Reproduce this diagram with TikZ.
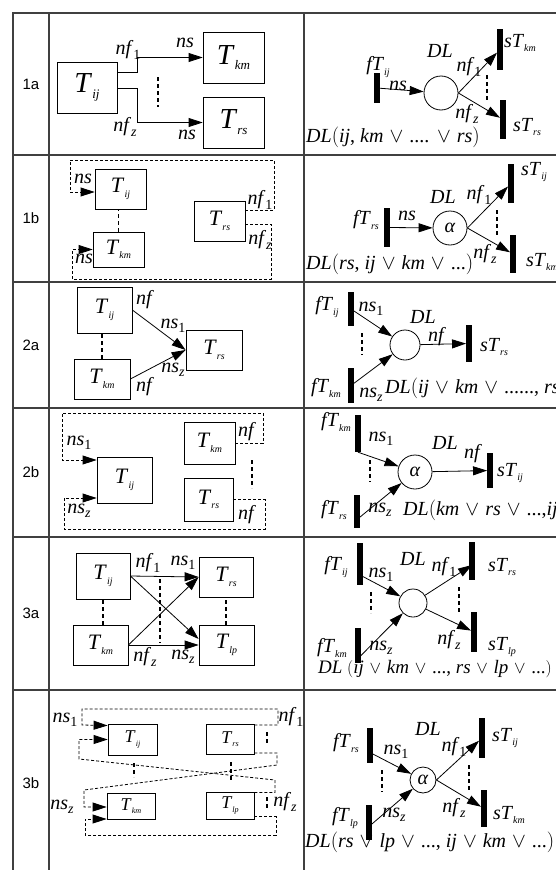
\documentclass[tikz,border=0pt]{standalone}
\usepackage{fontspec}
\setmainfont{Liberation Serif}
\newfontfamily\rowfont{Liberation Sans}
\usepackage{graphicx}
\usetikzlibrary{arrows.meta}

% italic symbol with a lowered, scaled index
\newcommand\sub[3][0.7]{\textit{#2}\raisebox{-0.45ex}{\scalebox{#1}{\textit{#3}}}}
\newcommand\orr{ \hspace{1pt}$\vee$\hspace{1pt} }

\begin{document}
\begin{tikzpicture}[x=1pt,y=-1pt,
  tbl/.style={black!75,line width=1.1pt},
  tbox/.style={draw,line width=0.8pt,inner sep=0pt},
  bar/.style={fill=black,inner sep=0pt,minimum width=5.5pt},
  dl/.style={draw,circle,line width=0.8pt,inner sep=0pt},
  arr/.style={line width=0.8pt,-{Triangle[length=14pt,width=9pt]}},
  darr/.style={line width=0.8pt,dash pattern=on 3pt off 2pt,-{Triangle[length=14pt,width=9pt]}},
  dsh/.style={line width=1.5pt,dash pattern=on 4pt off 3pt},
  tbig/.style={font=\fontsize{29}{32}\selectfont},
  tmed/.style={font=\fontsize{22}{24}\selectfont},
  tsml/.style={font=\fontsize{18}{20}\selectfont},
  lbl/.style={font=\fontsize{20}{22}\selectfont,inner sep=0pt},
  expr/.style={font=\fontsize{20}{22}\selectfont,inner sep=0pt,anchor=west},
  rowlbl/.style={font=\rowfont\fontsize{15}{18}\selectfont}]
\useasboundingbox (0,0) rectangle (556,870);

% table grid
\draw[tbl] (13,870) -- (13,13) -- (556,13);
\foreach \y in {155,282,408,537,690} \draw[tbl] (13,\y) -- (556,\y);
\draw[tbl] (49,13) -- (49,870);
\draw[tbl] (304,13) -- (304,870);
\foreach \n/\y in {1a/84,1b/218,2a/345,2b/472,3a/613,3b/783}
  \node[rowlbl] (r\n) at (31,\y) {\n};

% ---- 1a
\node[tbox,tbig,minimum width=60pt,minimum height=51pt] (Tij1a) at (87,87.5) {\sub[0.45]{T}{ij}};
\node[tbox,tbig,minimum width=61pt,minimum height=51pt] (Tkm1a) at (233.5,57.5) {\sub[0.45]{T}{km}};
\node[tbox,tbig,minimum width=61pt,minimum height=51pt] (Trs1a) at (233.5,122.5) {\sub[0.45]{T}{rs}};
\draw[arr] ([yshift=15pt]Tij1a.east) -- ++(20,0) |- (Tkm1a.west);
\draw[arr] ([yshift=-0.5pt]Tij1a.east) -- ++(20,0) |- (Trs1a.west);
\draw[dsh] (158,77) -- (158,107);
\node[lbl] (nfa1a) at (128,50) {\sub{nf}{\upshape 1}};
\node[lbl] (nsa1a) at (185,43) {\textit{ns}};
\node[lbl] (nfb1a) at (125,127) {\sub{nf}{z}};
\node[lbl] (nsb1a) at (187,135) {\textit{ns}};

\node[bar,minimum height=30pt] (fT1a) at (377,88) {};
\node[dl,minimum size=34pt] (c1a) at (441,93) {};
\node[bar,minimum height=41pt] (sTa1a) at (500,49.5) {};
\node[bar,minimum height=39pt] (sTb1a) at (503,119.5) {};
\draw[arr] (fT1a) -- (c1a);
\draw[arr] (c1a.east) -- (sTa1a);
\draw[arr] (c1a.east) -- (sTb1a);
\draw[dsh] (487,75) -- (487,100);
\node[lbl] (fTl1a) at (378,67) {\sub[0.5]{fT}{ij}};
\node[lbl] (ns1a) at (398,86) {\textit{ns}};
\node[lbl] (DL1a) at (440,51) {\textit{DL}};
\node[lbl] (nfc1a) at (469,67) {\sub{nf}{\upshape 1}};
\node[lbl] (nfd1a) at (467,114) {\sub{nf}{z}};
\node[lbl] (sTal1a) at (520,43) {\sub[0.5]{sT}{km}};
\node[lbl] (sTbl1a) at (527,127) {\sub[0.5]{sT}{rs}};
\node[expr] (ex1a) at (306,137) {\textit{DL}$\bigl($\textit{ij}, \textit{km}\orr....\orr\textit{rs}$\bigr)$};

% ---- 1b
\node[tbox,tmed,minimum width=51pt,minimum height=40pt] (Tij1b) at (120.5,189) {\sub[0.45]{T}{ij}};
\node[tbox,tmed,minimum width=51pt,minimum height=35pt] (Tkm1b) at (118.5,249.5) {\sub[0.45]{T}{km}};
\node[tbox,tmed,minimum width=51pt,minimum height=40pt] (Trs1b) at (219.5,221) {\sub[0.45]{T}{rs}};
\draw[dsh] (Tkm1b.north) -- (Tkm1b.north |- Tij1b.south);
\draw[darr] ([yshift=11pt]Trs1b.east) -- (274,210) -- (274,160) -- (70,160) -- (70,192) -- ([yshift=-3pt]Tij1b.west);
\draw[darr] ([yshift=-3pt]Trs1b.east) -- (271,224) -- (271,279) -- (72,279) -- (72,249.5) -- (Tkm1b.west);
\node[lbl] (nfa1b) at (260,200) {\sub{nf}{\upshape 1}};
\node[lbl] (nsa1b) at (83,179) {\textit{ns}};
\node[lbl] (nfb1b) at (260,240) {\sub{nf}{z}};
\node[lbl] (nsb1b) at (84,259) {\textit{ns}};

\node[bar,minimum height=39pt] (fT1b) at (387,227.5) {};
\node[dl,minimum size=34pt,font=\fontsize{20}{20}\selectfont] (c1b) at (450,228) {\textit{α}};
\node[bar,minimum height=39pt] (sTa1b) at (511,183.5) {};
\node[bar,minimum height=38pt] (sTb1b) at (513,254) {};
\draw[arr] (fT1b) -- (c1b);
\draw[arr] (c1b.east) -- (sTa1b);
\draw[arr] (c1b.east) -- (sTb1b);
\draw[dsh] (497,210) -- (497,235);
\node[lbl] (fTl1b) at (366,220) {\sub[0.5]{fT}{rs}};
\node[lbl] (ns1b) at (407,216) {\textit{ns}};
\node[lbl] (DL1b) at (443,197) {\textit{DL}};
\node[lbl] (nfc1b) at (479,195) {\sub{nf}{\upshape 1}};
\node[lbl] (nfd1b) at (485,254) {\sub{nf}{z}};
\node[lbl] (sTal1b) at (534,172) {\sub[0.5]{sT}{ij}};
\node[lbl] (sTbl1b) at (542,262) {\sub[0.5]{sT}{km}};
\node[expr] (ex1b) at (306,264) {\textit{DL}$\bigl($\textit{rs}, \textit{ij}\orr\textit{km}\orr...$\bigr)$};

% ---- 2a
\node[tbox,tmed,minimum width=55pt,minimum height=46pt] (Tij2a) at (104.5,310) {\sub[0.45]{T}{ij}};
\node[tbox,tmed,minimum width=56pt,minimum height=40pt] (Tkm2a) at (102,379) {\sub[0.45]{T}{km}};
\node[tbox,tmed,minimum width=56pt,minimum height=40pt] (Trs2a) at (214,350) {\sub[0.45]{T}{rs}};
\draw[dsh] (Tkm2a.north) -- (Tkm2a.north |- Tij2a.south);
\draw[arr] (Tij2a.east) -- (Trs2a.west);
\draw[arr] (Tkm2a.east) -- (Trs2a.west);
\node[lbl] (nfa2a) at (145,300) {\textit{nf}};
\node[lbl] (nsa2a) at (173,326) {\sub{ns}{\upshape 1}};
\node[lbl] (nsb2a) at (173,370) {\sub{ns}{z}};
\node[lbl] (nfb2a) at (145,387) {\textit{nf}};

\node[bar,minimum height=34pt] (fTa2a) at (351,309) {};
\node[bar,minimum height=35pt] (fTb2a) at (351,385.5) {};
\node[dl,minimum size=30pt] (c2a) at (405,345) {};
\node[bar,minimum height=37pt] (sT2a) at (469,343.5) {};
\draw[arr] (fTa2a) -- (c2a);
\draw[arr] (fTb2a) -- (c2a);
\draw[arr] (c2a) -- (sT2a);
\draw[dsh] (362,333) -- (362,355);
\node[lbl] (fTal2a) at (327,307) {\sub[0.5]{fT}{ij}};
\node[lbl] (fTbl2a) at (326,388) {\sub[0.5]{fT}{km}};
\node[lbl] (nsa2aR) at (371,309) {\sub{ns}{\upshape 1}};
\node[lbl] (nsb2aR) at (371,395) {\sub{ns}{z}};
\node[lbl] (DL2a) at (423,317) {\textit{DL}};
\node[lbl] (nf2a) at (437,337) {\textit{nf}};
\node[lbl] (sTl2a) at (494,347) {\sub[0.5]{sT}{rs}};
\node[expr] (ex2a) at (385,388) {\textit{DL}$\bigl($\textit{ij}\orr\textit{km}\orr......, \textit{rs}$\bigr)$};

% ---- 2b
\node[tbox,tmed,minimum width=55pt,minimum height=46pt] (Tij2b) at (124.5,480) {\sub[0.45]{T}{ij}};
\node[tbox,tmed,minimum width=51pt,minimum height=42pt] (Tkm2b) at (209.5,443) {\sub[0.45]{T}{km}};
\node[tbox,tmed,minimum width=49pt,minimum height=43pt] (Trs2b) at (208.5,499.5) {\sub[0.45]{T}{rs}};
\draw[dsh] (252,460) -- (252,488);
\draw[darr] (Tkm2b.east) -- (263,443) -- (263,413) -- (62,413) -- (62,460) -- ([yshift=20pt]Tij2b.west);
\draw[darr] (Trs2b.east) -- (265,499.5) -- (265,529) -- (64,529) -- (64,498) -- ([yshift=-18pt]Tij2b.west);
\node[lbl] (nfa2b) at (247,432) {\textit{nf}};
\node[lbl] (nsa2b) at (79,443) {\sub{ns}{\upshape 1}};
\node[lbl] (nfb2b) at (247,515) {\textit{nf}};
\node[lbl] (nsb2b) at (79,511) {\sub{ns}{z}};

\node[bar,minimum height=37pt] (fTa2b) at (358,433.5) {};
\node[bar,minimum height=33pt] (fTb2b) at (357,511.5) {};
\node[dl,minimum size=34pt,font=\fontsize{20}{20}\selectfont] (c2b) at (415,472) {\textit{α}};
\node[bar,minimum height=35pt] (sT2b) at (490,470.5) {};
\draw[arr] (fTa2b.south) -- (c2b);
\draw[arr] ([yshift=-8pt]fTb2b.center) -- (c2b);
\draw[arr] (c2b) -- (sT2b);
\draw[dsh] (370,460) -- (370,482);
\node[lbl] (fTal2b) at (336,422) {\sub[0.5]{fT}{km}};
\node[lbl] (fTbl2b) at (334,510) {\sub[0.5]{fT}{rs}};
\node[lbl] (nsa2bR) at (381,439) {\sub{ns}{\upshape 1}};
\node[lbl] (nsb2bR) at (380,510) {\sub{ns}{z}};
\node[lbl] (DL2b) at (445,443) {\textit{DL}};
\node[lbl] (nf2b) at (473,454) {\textit{nf}};
\node[lbl] (sTl2b) at (510,473) {\sub[0.5]{sT}{ij}};
\node[expr] (ex2b) at (403,510) {\textit{DL}$\bigl($\textit{km}\orr\textit{rs}\orr...,\textit{ij}$\bigr)$};

% ---- 3a
\node[tbox,tmed,minimum width=54pt,minimum height=46pt] (Tij3a) at (103,576) {\sub[0.45]{T}{ij}};
\node[tbox,tmed,minimum width=54pt,minimum height=40pt] (Trs3a) at (226,577) {\sub[0.45]{T}{rs}};
\node[tbox,tmed,minimum width=55pt,minimum height=40pt] (Tkm3a) at (100.5,645) {\sub[0.45]{T}{km}};
\node[tbox,tmed,minimum width=55pt,minimum height=40pt] (Tlp3a) at (226.5,645) {\sub[0.45]{T}{lp}};
\draw[arr] (Tij3a.east) -- (Trs3a.west);
\draw[arr] (Tkm3a.east) -- (Tlp3a.west);
\draw[arr] (Tij3a.east) -- ([yshift=6pt]Tlp3a.west);
\draw[arr] (Tkm3a.east) -- (Trs3a.west);
\draw[dsh] (Tkm3a.north -| 103,0) -- (Tij3a.south);
\draw[dsh] (Tlp3a.north -| Trs3a.south) -- (Trs3a.south);
\draw[dsh] (160,579) -- (160,643);
\node[lbl] (nfa3a) at (148,563) {\sub{nf}{\upshape 1}};
\node[lbl] (nsa3a) at (183,563) {\sub{ns}{\upshape 1}};
\node[lbl] (nfb3a) at (145,657) {\sub{nf}{z}};
\node[lbl] (nsb3a) at (183,657) {\sub{ns}{z}};

\node[bar,minimum height=42pt] (fTa3a) at (360,564) {};
\node[bar,minimum height=35pt] (fTb3a) at (358,645.5) {};
\node[dl,minimum size=28pt] (c3a) at (413,603) {};
\node[bar,minimum height=38pt] (sTa3a) at (472,561) {};
\node[bar,minimum height=40pt] (sTb3a) at (474,632) {};
\draw[arr] ([yshift=-11pt]fTa3a.center) -- (c3a);
\draw[arr] ([yshift=-13pt]fTb3a.center) -- (c3a);
\draw[arr] (c3a) -- ([yshift=-4pt]sTa3a.center);
\draw[arr] (c3a) -- (sTb3a);
\draw[dsh] (371,592) -- (371,613);
\draw[dsh] (459,587) -- (459,613);
\node[lbl] (fTal3a) at (336,567) {\sub[0.5]{fT}{ij}};
\node[lbl] (fTbl3a) at (332,648) {\sub[0.5]{fT}{km}};
\node[lbl] (nsa3aR) at (381,575) {\sub{ns}{\upshape 1}};
\node[lbl] (nsb3aR) at (381,648) {\sub{ns}{z}};
\node[lbl] (DL3a) at (413,559) {\textit{DL}};
\node[lbl] (nfa3aR) at (444,567) {\sub{nf}{\upshape 1}};
\node[lbl] (nfb3aR) at (449,640) {\sub{nf}{z}};
\node[lbl] (sTal3a) at (502,567) {\sub[0.5]{sT}{rs}};
\node[lbl] (sTbl3a) at (502,647) {\sub[0.5]{sT}{lp}};
\node[expr,font=\fontsize{19}{22}\selectfont] (ex3a) at (318,669) {\textit{DL} $\bigl($\textit{ij}\orr\textit{km}\orr..., \textit{rs}\orr\textit{lp}\orr...$\bigr)$};

% ---- 3b
\node[tbox,tsml,minimum width=49pt,minimum height=31pt] (Tij3b) at (132.5,739.5) {\sub[0.45]{T}{ij}};
\node[tbox,tsml,minimum width=48pt,minimum height=30pt] (Trs3b) at (230,739) {\sub[0.45]{T}{rs}};
\node[tbox,tsml,minimum width=48pt,minimum height=26pt] (Tkm3b) at (131,806) {\sub[0.45]{T}{km}};
\node[tbox,tsml,minimum width=48pt,minimum height=27pt] (Tlp3b) at (230,805.5) {\sub[0.45]{T}{lp}};
\draw[darr] ([yshift=14pt]Trs3b.east) -- (278,725) -- (278,709) -- (82,709) -- (82,725) -- ([yshift=14pt]Tij3b.west);
\draw[darr] ([yshift=13pt]Tlp3b.east) -- (275,792.5) -- (275,780) -- (79,759) -- (79,739.5) -- (Tij3b.west);
\draw[darr] ([yshift=-14pt]Trs3b.east) -- (277,753) -- (277,765) -- (84,790) -- (84,807) -- ([yshift=-1pt]Tkm3b.west);
\draw[darr] ([yshift=-11pt]Tlp3b.east) -- (276,816.5) -- (276,835) -- (85,835) -- (85,819) -- ([yshift=-13pt]Tkm3b.west);
\draw[dsh] (267,732) -- (267,743);
\draw[dsh] (267,797) -- (267,810);
\draw[dsh] (134,763) -- (134,777);
\draw[dsh] (231,762) -- (231,780);
\node[lbl] (nsa3b) at (65,720) {\sub{ns}{\upshape 1}};
\node[lbl] (nsb3b) at (62,807) {\sub{ns}{z}};
\node[lbl] (nfa3b) at (291,717) {\sub{nf}{\upshape 1}};
\node[lbl] (nfb3b) at (285,802) {\sub{nf}{z}};

\node[bar,minimum height=35pt] (fTa3b) at (370,745.5) {};
\node[bar,minimum height=35pt] (fTb3b) at (369,822.5) {};
\node[dl,minimum size=26pt,font=\fontsize{20}{20}\selectfont] (c3b) at (423,780) {\textit{α}};
\node[bar,minimum height=40pt] (sTa3b) at (482,738) {};
\node[bar,minimum height=37pt] (sTb3b) at (484,808.5) {};
\draw[arr] ([yshift=-7pt]fTa3b.center) -- (c3b);
\draw[arr] ([yshift=-4pt]fTb3b.center) -- (c3b);
\draw[arr] (c3b.east) -- (sTa3b);
\draw[arr] (c3b.east) -- (sTb3b);
\draw[dsh] (382,770) -- (382,792);
\draw[dsh] (469,765) -- (469,790);
\node[lbl] (fTal3b) at (346,743) {\sub[0.5]{fT}{rs}};
\node[lbl] (fTbl3b) at (345,818) {\sub[0.5]{fT}{lp}};
\node[lbl] (nsa3bR) at (396,752) {\sub{ns}{\upshape 1}};
\node[lbl] (nsb3bR) at (394,815) {\sub{ns}{z}};
\node[lbl] (DL3b) at (428,729) {\textit{DL}};
\node[lbl] (nfa3bR) at (454,747) {\sub{nf}{\upshape 1}};
\node[lbl] (nfb3bR) at (454,808) {\sub{nf}{z}};
\node[lbl] (sTal3b) at (505,738) {\sub[0.5]{sT}{ij}};
\node[lbl] (sTbl3b) at (509,815) {\sub[0.5]{sT}{km}};
\node[expr] (ex3b) at (305,842) {\textit{DL}$\bigl($\textit{rs}\orr\textit{lp}\orr..., \textit{ij}\orr\textit{km}\orr...$\bigr)$};
\end{tikzpicture}
\end{document}
